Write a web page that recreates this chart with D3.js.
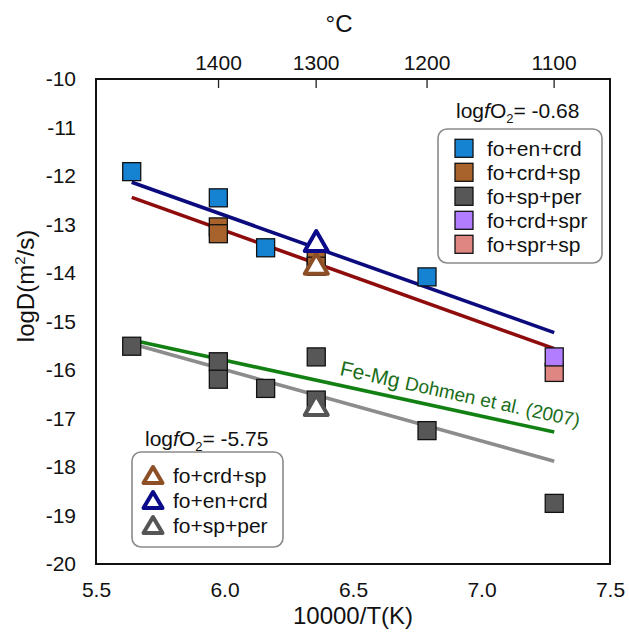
<!DOCTYPE html>
<html>
<head>
<meta charset="utf-8">
<script src="https://cdn.jsdelivr.net/npm/d3@7"></script>
<style>
  html, body { margin: 0; padding: 0; background: #fff; }
  svg { display: block; font-family: "Liberation Sans", Arial, Helvetica, sans-serif; }
</style>
</head>
<body>
<svg id="chart" width="629" height="632"></svg>
<script>
// ---------- data ----------
const xTicks = [5.5, 6.0, 6.5, 7.0, 7.5];
const yTicks = [-10, -11, -12, -13, -14, -15, -16, -17, -18, -19, -20];
const topTicksC = [1400, 1300, 1200, 1100];

// squares, logfO2 = -0.68   [10000/T, logD]
const foEnCrd  = [[5.639, -11.91], [5.976, -12.45], [6.160, -13.48], [6.788, -14.08]];
const foCrdSp  = [[5.976, -13.05], [5.976, -13.19], [6.357, -13.66], [6.357, -13.86]];
const foSpPer  = [[5.639, -15.51], [5.976, -15.83], [5.976, -16.19], [6.160, -16.38],
                  [6.357, -15.73], [6.357, -16.62], [6.788, -17.25], [7.283, -18.75]];
const foSprSp  = [[7.283, -16.05]];
const foCrdSpr = [[7.283, -15.73]];

// triangles, logfO2 = -5.75
const triCrdSp  = [[6.357, -13.81]];
const triEnCrd  = [[6.357, -13.34]];
const triSpPer  = [[6.357, -16.72]];

// fit lines
const fitBlue  = [[5.639, -12.13], [7.283, -15.23]];
const fitRed   = [[5.639, -12.44], [7.283, -15.56]];
const fitGreen = [[5.639, -15.38], [7.283, -17.28]];
const fitGrey  = [[5.639, -15.46], [7.283, -17.88]];

const legend1 = ["fo+en+crd", "fo+crd+sp", "fo+sp+per", "fo+crd+spr", "fo+spr+sp"];
const legend2 = ["fo+crd+sp", "fo+en+crd", "fo+sp+per"];

// ---------- styles ----------
const C = {
  blueSq: "#1682d2", brownSq: "#a8632c", greySq: "#575757", purpleSq: "#b27dff", pinkSq: "#e08682",
  triBrown: "#8c4f26", triBlue: "#0a0a8a", triGrey: "#555555",
  lineBlue: "#0b0b7e", lineRed: "#8e0c0c", lineGreen: "#138013", lineGrey: "#8c8c8c",
  textGreen: "#1a6e1a"
};
const FONT = 21;

const svg = d3.select("#chart");
const L = 96, R = 610, T = 79, B = 564;
const x = d3.scaleLinear().domain([5.5, 7.5]).range([L, R]);
const y = d3.scaleLinear().domain([-20, -10]).range([B, T]);

// ---------- axes ----------
const gB = svg.append("g").attr("transform", `translate(0,${B})`)
  .call(d3.axisBottom(x).tickValues(xTicks).tickFormat(d3.format(".1f")).tickSize(0).tickPadding(20));
const gL = svg.append("g").attr("transform", `translate(${L},0)`)
  .call(d3.axisLeft(y).tickValues(yTicks).tickFormat(d => d3.format("d")(d).replace("\u2212", "-")).tickSize(0).tickPadding(20));
const xTop = d => x(10000 / (d + 273.15));
[gB, gL].forEach(g => {
  g.select(".domain").remove();
  g.selectAll("text").attr("font-size", FONT).attr("fill", "#111").attr("font-family", null);
});
gB.selectAll("text").attr("dy", "0.71em").attr("y", 18);

// top ticks (inward) with labels
const topG = svg.append("g");
topG.selectAll("line").data(topTicksC).join("line")
  .attr("x1", xTop).attr("x2", xTop).attr("y1", T).attr("y2", T + 9)
  .attr("stroke", "#222").attr("stroke-width", 1.3);
topG.selectAll("text").data(topTicksC).join("text")
  .attr("x", xTop).attr("y", 70).attr("text-anchor", "middle")
  .attr("font-size", FONT).attr("fill", "#111").text(d => d);

// axis titles
svg.append("text").attr("x", 339).attr("y", 32).attr("text-anchor", "middle")
  .attr("font-size", 24).attr("fill", "#111").text("\u00B0C");
svg.append("text").attr("x", 353).attr("y", 624).attr("text-anchor", "middle")
  .attr("font-size", 24).attr("fill", "#111").text("10000/T(K)");
const yt = svg.append("text").attr("transform", "translate(34,286) rotate(-90)")
  .attr("text-anchor", "middle").attr("font-size", 24).attr("fill", "#111");
yt.append("tspan").text("logD(m");
yt.append("tspan").attr("font-size", 15).attr("dy", -9).text("2");
yt.append("tspan").attr("dy", 9).text("/s)");

// ---------- lines ----------
const line = d3.line().x(d => x(d[0])).y(d => y(d[1]));
[[fitBlue, C.lineBlue], [fitRed, C.lineRed], [fitGreen, C.lineGreen], [fitGrey, C.lineGrey]].forEach(([d, c]) => {
  svg.append("path").datum(d).attr("d", line).attr("fill", "none")
    .attr("stroke", c).attr("stroke-width", 3.6);
});

// Dohmen label
const ang = Math.atan2(y(fitGreen[1][1]) - y(fitGreen[0][1]), x(fitGreen[1][0]) - x(fitGreen[0][0])) * 180 / Math.PI;
const lab = svg.append("text").attr("transform", `translate(339,375) rotate(${ang})`)
  .attr("fill", C.textGreen).attr("font-size", 19);
lab.append("tspan").attr("font-size", 21).text("Fe-Mg ");
lab.append("tspan").text("Dohmen et al. (2007)");

// ---------- markers ----------
const SQ = 18;
function squares(data, color) {
  svg.append("g").selectAll("rect").data(data).join("rect")
    .attr("x", d => x(d[0]) - SQ / 2).attr("y", d => y(d[1]) - SQ / 2)
    .attr("width", SQ).attr("height", SQ)
    .attr("fill", color).attr("stroke", "#111").attr("stroke-width", 1.3);
}
squares(foEnCrd, C.blueSq);
squares(foCrdSp, C.brownSq);
squares(foSpPer, C.greySq);
squares(foSprSp, C.pinkSq);
squares(foCrdSpr, C.purpleSq);

function triPath(cx, cy, w, h) {
  return `M${cx},${cy - h / 2}L${cx + w / 2},${cy + h / 2}L${cx - w / 2},${cy + h / 2}Z`;
}
function triangles(data, color) {
  svg.append("g").selectAll("path").data(data).join("path")
    .attr("d", d => triPath(x(d[0]), y(d[1]), 23, 20))
    .attr("fill", "#fff").attr("stroke", color).attr("stroke-width", 4).attr("stroke-linejoin", "round");
}
triangles(triSpPer, C.triGrey);
triangles(triCrdSp, C.triBrown);
triangles(triEnCrd, C.triBlue);

// ---------- plot frame ----------
svg.append("rect").attr("x", L).attr("y", T).attr("width", R - L).attr("height", B - T)
  .attr("fill", "none").attr("stroke", "#111").attr("stroke-width", 2);

// ---------- legends ----------
function fo2Title(g, xx, yy, val) {
  const t = g.append("text").attr("x", xx).attr("y", yy).attr("font-size", FONT).attr("fill", "#111");
  t.append("tspan").text("log");
  t.append("tspan").attr("font-style", "italic").text("f");
  t.append("tspan").text("O");
  t.append("tspan").attr("font-size", 13).attr("dy", 5).text("2");
  t.append("tspan").attr("dy", -5).text("= " + val);
}
// legend 1
const lg1 = svg.append("g");
fo2Title(lg1, 456, 118, "-0.68");
lg1.append("rect").attr("x", 438).attr("y", 129).attr("width", 164).attr("height", 134)
  .attr("rx", 9).attr("fill", "#fff").attr("stroke", "#8a8a8a").attr("stroke-width", 1.6);
const l1Colors = [C.blueSq, C.brownSq, C.greySq, C.purpleSq, C.pinkSq];
legend1.forEach((name, i) => {
  const cy = 148.3 + i * 24;
  lg1.append("rect").attr("x", 455).attr("y", cy - 9).attr("width", 18).attr("height", 18)
    .attr("fill", l1Colors[i]).attr("stroke", "#111").attr("stroke-width", 1.3);
  lg1.append("text").attr("x", 487).attr("y", cy + 7.5).attr("font-size", FONT).attr("fill", "#111").text(name);
});
// legend 2
const lg2 = svg.append("g");
fo2Title(lg2, 145, 446, "-5.75");
lg2.append("rect").attr("x", 132).attr("y", 452).attr("width", 151).attr("height", 95)
  .attr("rx", 9).attr("fill", "#fff").attr("stroke", "#8a8a8a").attr("stroke-width", 1.6);
const l2Colors = [C.triBrown, C.triBlue, C.triGrey];
legend2.forEach((name, i) => {
  const cy = 475 + i * 25;
  lg2.append("path").attr("d", triPath(153, cy, 19, 16))
    .attr("fill", "#fff").attr("stroke", l2Colors[i]).attr("stroke-width", 4).attr("stroke-linejoin", "round");
  lg2.append("text").attr("x", 173).attr("y", cy + 7.5).attr("font-size", FONT).attr("fill", "#111").text(name);
});
</script>
</body>
</html>
